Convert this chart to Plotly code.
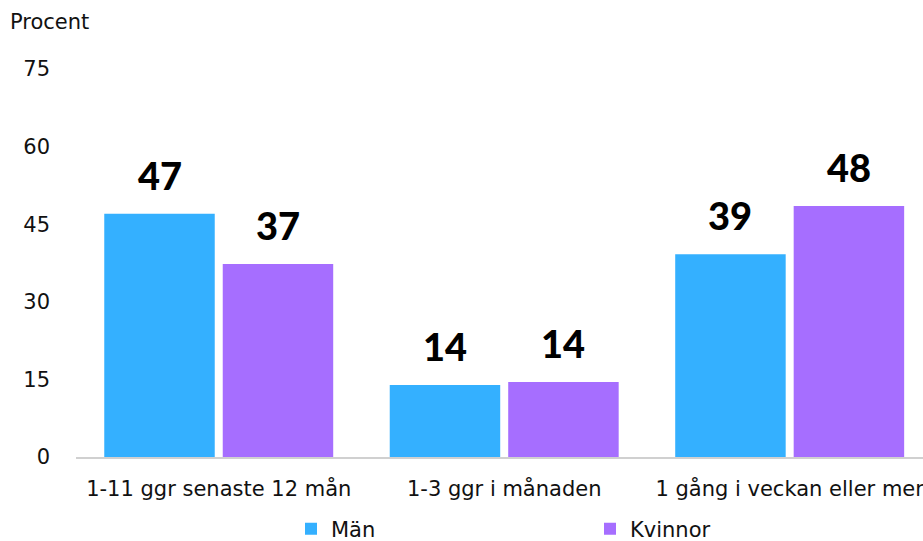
import plotly.graph_objects as go

categories = ["1-11 ggr senaste 12 mån", "1-3 ggr i månaden", "1 gång i veckan eller mer"]
man_values = [47.0, 13.9, 39.2]
kvinnor_values = [37.3, 14.5, 48.5]
series_names = ["Män", "Kvinnor"]
y_ticks = [0, 15, 30, 45, 60, 75]

colors = ["#34B0FF", "#A66EFF"]
FONT = "DejaVu Sans"
LABEL_FONT = "Lato"
TXT = "#111111"
FS = 21

fig = go.Figure()
for name, vals, col in zip(series_names, [man_values, kvinnor_values], colors):
    fig.add_trace(go.Bar(
        x=categories, y=vals, name=name, marker=dict(color=col, line=dict(width=0)),
    ))

bargap = 0.17
bargroupgap = 0.0675
slot = (1 - bargap) / 2
offsets = [-slot / 2, slot / 2]
for vals, off in zip([man_values, kvinnor_values], offsets):
    for i, v in enumerate(vals):
        fig.add_annotation(
            x=i + off, y=v, xref="x", yref="y",
            text=f"{round(v)}", showarrow=False,
            yanchor="bottom", yshift=14,
            font=dict(family=LABEL_FONT, size=38, color="#000000", weight=900),
        )

fig.update_layout(
    width=923, height=541,
    margin=dict(l=76, r=0, t=69, b=84, autoexpand=False),
    paper_bgcolor="white", plot_bgcolor="white",
    barmode="group", bargap=bargap, bargroupgap=bargroupgap,
    font=dict(family=FONT, size=FS, color=TXT),
    title=dict(text="Procent", x=10 / 923, xanchor="left", xref="container",
               y=1 - 22 / 541, yanchor="middle", yref="container",
               font=dict(family=FONT, size=FS, color=TXT)),
    showlegend=True,
    legend=dict(orientation="h", x=(291 - 76) / 847, xanchor="left",
                y=-(529 - 457) / 388, yanchor="middle",
                entrywidth=254, entrywidthmode="pixels",
                font=dict(family=FONT, size=FS, color=TXT)),
    xaxis=dict(type="category", range=[-0.5, 2.467], showline=True, linecolor="#d0d0d0",
               linewidth=2, ticks="", showgrid=False, ticklabelstandoff=12, tickangle=0,
               automargin=False,
               tickfont=dict(family=FONT, size=FS, color=TXT)),
    yaxis=dict(range=[0, 75], tickvals=y_ticks, showgrid=False, zeroline=False,
               showline=False, ticks="", ticklabelstandoff=25, automargin=False,
               tickfont=dict(family=FONT, size=FS, color=TXT)),
)

fig.write_html("out.html")
